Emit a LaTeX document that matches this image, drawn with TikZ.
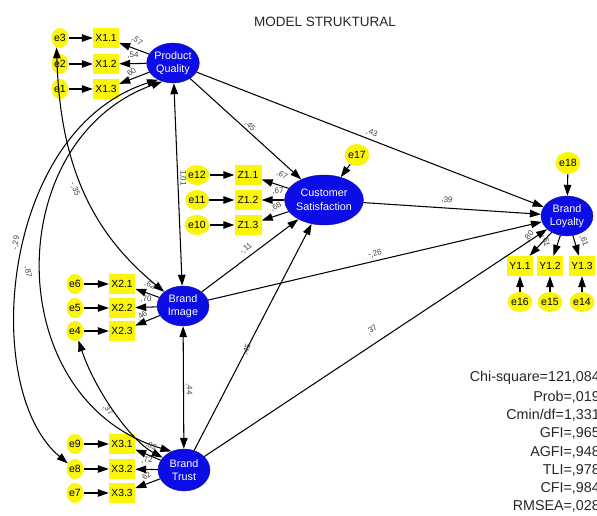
\documentclass[tikz,border=0pt]{standalone}
\usepackage{fontspec}
\setmainfont{Liberation Sans}
\usetikzlibrary{arrows.meta,shapes.geometric}
\definecolor{latblue}{RGB}{12,12,230}
\definecolor{latedge}{RGB}{20,20,150}
\definecolor{indyellow}{RGB}{250,245,10}
\begin{document}
\begin{tikzpicture}[x=1pt,y=-1pt,
 lat/.style={ellipse,draw=latedge,fill=latblue,text=white,minimum width=52pt,minimum height=40pt,inner sep=0pt,align=center,font=\fontsize{10.8}{13.5}\selectfont},
 ind/.style={rectangle,fill=indyellow,minimum width=26pt,minimum height=20pt,inner sep=0pt,font=\fontsize{10.3}{12}\selectfont},
 err/.style={ellipse,fill=indyellow,minimum width=17pt,minimum height=20pt,inner sep=0pt,font=\fontsize{10.5}{12}\selectfont},
 arr/.style={-{Triangle[length=11pt,width=7.5pt]},line width=1.05pt},
 cov/.style={{Triangle[length=11pt,width=7.5pt]}-{Triangle[length=11pt,width=7.5pt]},line width=1.05pt},
 lbl/.style={font=\fontsize{8}{9}\selectfont,text=black!75,inner sep=0pt},
 stat/.style={anchor=east,font=\fontsize{14.3}{16}\selectfont,text=black!85,inner sep=0pt}]
\useasboundingbox (0,0) rectangle (597,516);
\clip (0,0) rectangle (597,516);

\node[font=\fontsize{13.5}{15}\selectfont,text=black!85] (title) at (325,22) {MODEL STRUKTURAL};

% latent variables
\node[lat] (PQ) at (173,63) {Product\\Quality};
\node[lat] (BI) at (183,306) {Brand\\Image};
\node[lat,minimum height=42pt] (BT) at (184,470) {Brand\\Trust};
\node[lat,minimum width=62pt,minimum height=50pt] (CS) at (324,200) {Customer\\Satisfaction};
\node[lat] (BL) at (567,216) {Brand\\Loyalty};

% indicators X1
\node[ind] (X11) at (106,38) {X1.1};
\node[ind] (X12) at (106,64) {X1.2};
\node[ind] (X13) at (106,89) {X1.3};
\node[err] (e3) at (60,38) {e3};
\node[err] (e2) at (60,64) {e2};
\node[err] (e1) at (60,89) {e1};
% X2
\node[ind] (X21) at (122,284) {X2.1};
\node[ind] (X22) at (122,308) {X2.2};
\node[ind] (X23) at (122,331) {X2.3};
\node[err] (e6) at (75,284) {e6};
\node[err] (e5) at (75,308) {e5};
\node[err] (e4) at (75,331) {e4};
% X3
\node[ind] (X31) at (122,444) {X3.1};
\node[ind] (X32) at (122,469) {X3.2};
\node[ind] (X33) at (122,493) {X3.3};
\node[err] (e9) at (75,444) {e9};
\node[err] (e8) at (75,469) {e8};
\node[err] (e7) at (75,493) {e7};
% Z
\node[ind,minimum width=27pt] (Z11) at (248,175) {Z1.1};
\node[ind,minimum width=27pt] (Z12) at (248,200) {Z1.2};
\node[ind,minimum width=27pt] (Z13) at (248,225) {Z1.3};
\node[err,minimum width=20pt] (e12) at (197,175) {e12};
\node[err,minimum width=20pt] (e11) at (197,200) {e11};
\node[err,minimum width=20pt] (e10) at (197,225) {e10};
\node[err,minimum width=22pt,minimum height=22pt] (e17) at (357,155) {e17};
% Y
\node[ind] (Y11) at (520,266) {Y1.1};
\node[ind] (Y12) at (550,266) {Y1.2};
\node[ind] (Y13) at (582,266) {Y1.3};
\node[err,minimum width=20pt] (e16) at (520,302) {e16};
\node[err,minimum width=20pt] (e15) at (550,302) {e15};
\node[err,minimum width=20pt] (e14) at (582,302) {e14};
\node[err,minimum width=22pt,minimum height=22pt] (e18) at (568,163) {e18};

% error arrows
\foreach \e/\x in {e3/X11,e2/X12,e1/X13,e6/X21,e5/X22,e4/X23,e9/X31,e8/X32,e7/X33,e12/Z11,e11/Z12,e10/Z13,e16/Y11,e15/Y12,e14/Y13,e17/CS,e18/BL}
  \draw[arr] (\e) -- (\x);

% loadings
\foreach \x in {X11,X12,X13} \draw[arr] (PQ) -- (\x);
\foreach \x in {X21,X22,X23} \draw[arr] (BI) -- (\x);
\foreach \x in {X31,X32,X33} \draw[arr] (BT) -- (\x);
\foreach \x in {Z11,Z12,Z13} \draw[arr] (CS) -- (\x);
\foreach \x in {Y11,Y12,Y13} \draw[arr] (BL) -- (\x);

% structural paths
\draw[arr] (PQ) -- (CS);
\draw[arr] (PQ) -- (BL);
\draw[arr] (BI) -- (CS);
\draw[arr] (BI) -- (BL);
\draw[arr] (BT) -- (CS);
\draw[arr] (BT) -- (BL);
\draw[arr] (CS) -- (BL);

% covariances
\draw[cov] (PQ) -- (BI);
\draw[cov] (BI) -- (BT);
\draw[cov] (PQ.228) .. controls (0,130) and (-20,390) .. (e8.142);
\draw[cov] (PQ.240) .. controls (0,140) and (0,400) .. (BT.124);
\draw[cov] (e3.250) .. controls (60,170) and (95,235) .. (BI.143);
\draw[cov] (e4.290) .. controls (95,390) and (130,440) .. (BT.150);

% path labels
\node[lbl,rotate=-35] (l1) at (137,41) {,57};
\node[lbl] (l2) at (133,55) {,54};
\node[lbl,rotate=40] (l3) at (131,73) {,60};
\node[lbl,rotate=-30] (l4) at (150,285) {,62};
\node[lbl] (l5) at (146,299) {,70};
\node[lbl,rotate=40] (l6) at (142,316) {,46};
\node[lbl,rotate=-30] (l7) at (151,446) {,83};
\node[lbl] (l8) at (147,460) {,72};
\node[lbl,rotate=40] (l9) at (146,477) {,62};
\node[lbl,rotate=-30] (l10) at (282,175) {,67};
\node[lbl] (l11) at (278,191) {,67};
\node[lbl,rotate=30] (l12) at (276,207) {,68};
\node[lbl,rotate=55] (l13) at (529,236) {,80};
\node[lbl,rotate=-80] (l14) at (546,241) {,61};
\node[lbl,rotate=-70] (l15) at (584,241) {,61};
\node[lbl,rotate=-45] (l16) at (250,126) {,45};
\node[lbl,rotate=-22] (l17) at (372,133) {,43};
\node[lbl,rotate=-3] (l18) at (447,200) {,39};
\node[lbl,rotate=40] (l19) at (246,249) {-,11};
\node[lbl,rotate=15] (l20) at (375,254) {-,26};
\node[lbl,rotate=68] (l21) at (247,350) {,45};
\node[lbl,rotate=35] (l22) at (372,330) {,37};
\node[lbl,rotate=-90] (l23) at (183,178) {1,01};
\node[lbl,rotate=-90] (l24) at (189,389) {,44};
\node[lbl,rotate=-65] (l25) at (75,189) {-,35};
\node[lbl,rotate=80] (l26) at (16,243) {-,29};
\node[lbl,rotate=-80] (l27) at (28,272) {,87};
\node[lbl,rotate=-50] (l28) at (108,410) {,37};

% fit statistics
\node[stat] (s1) at (600,378) {Chi-square=121,084};
\node[stat] (s2) at (600,397) {Prob=,019};
\node[stat] (s3) at (600,415) {Cmin/df=1,331};
\node[stat] (s4) at (600,433) {GFI=,965};
\node[stat] (s5) at (600,452) {AGFI=,948};
\node[stat] (s6) at (600,470) {TLI=,978};
\node[stat] (s7) at (600,488) {CFI=,984};
\node[stat] (s8) at (600,506) {RMSEA=,028};
\end{tikzpicture}
\end{document}
